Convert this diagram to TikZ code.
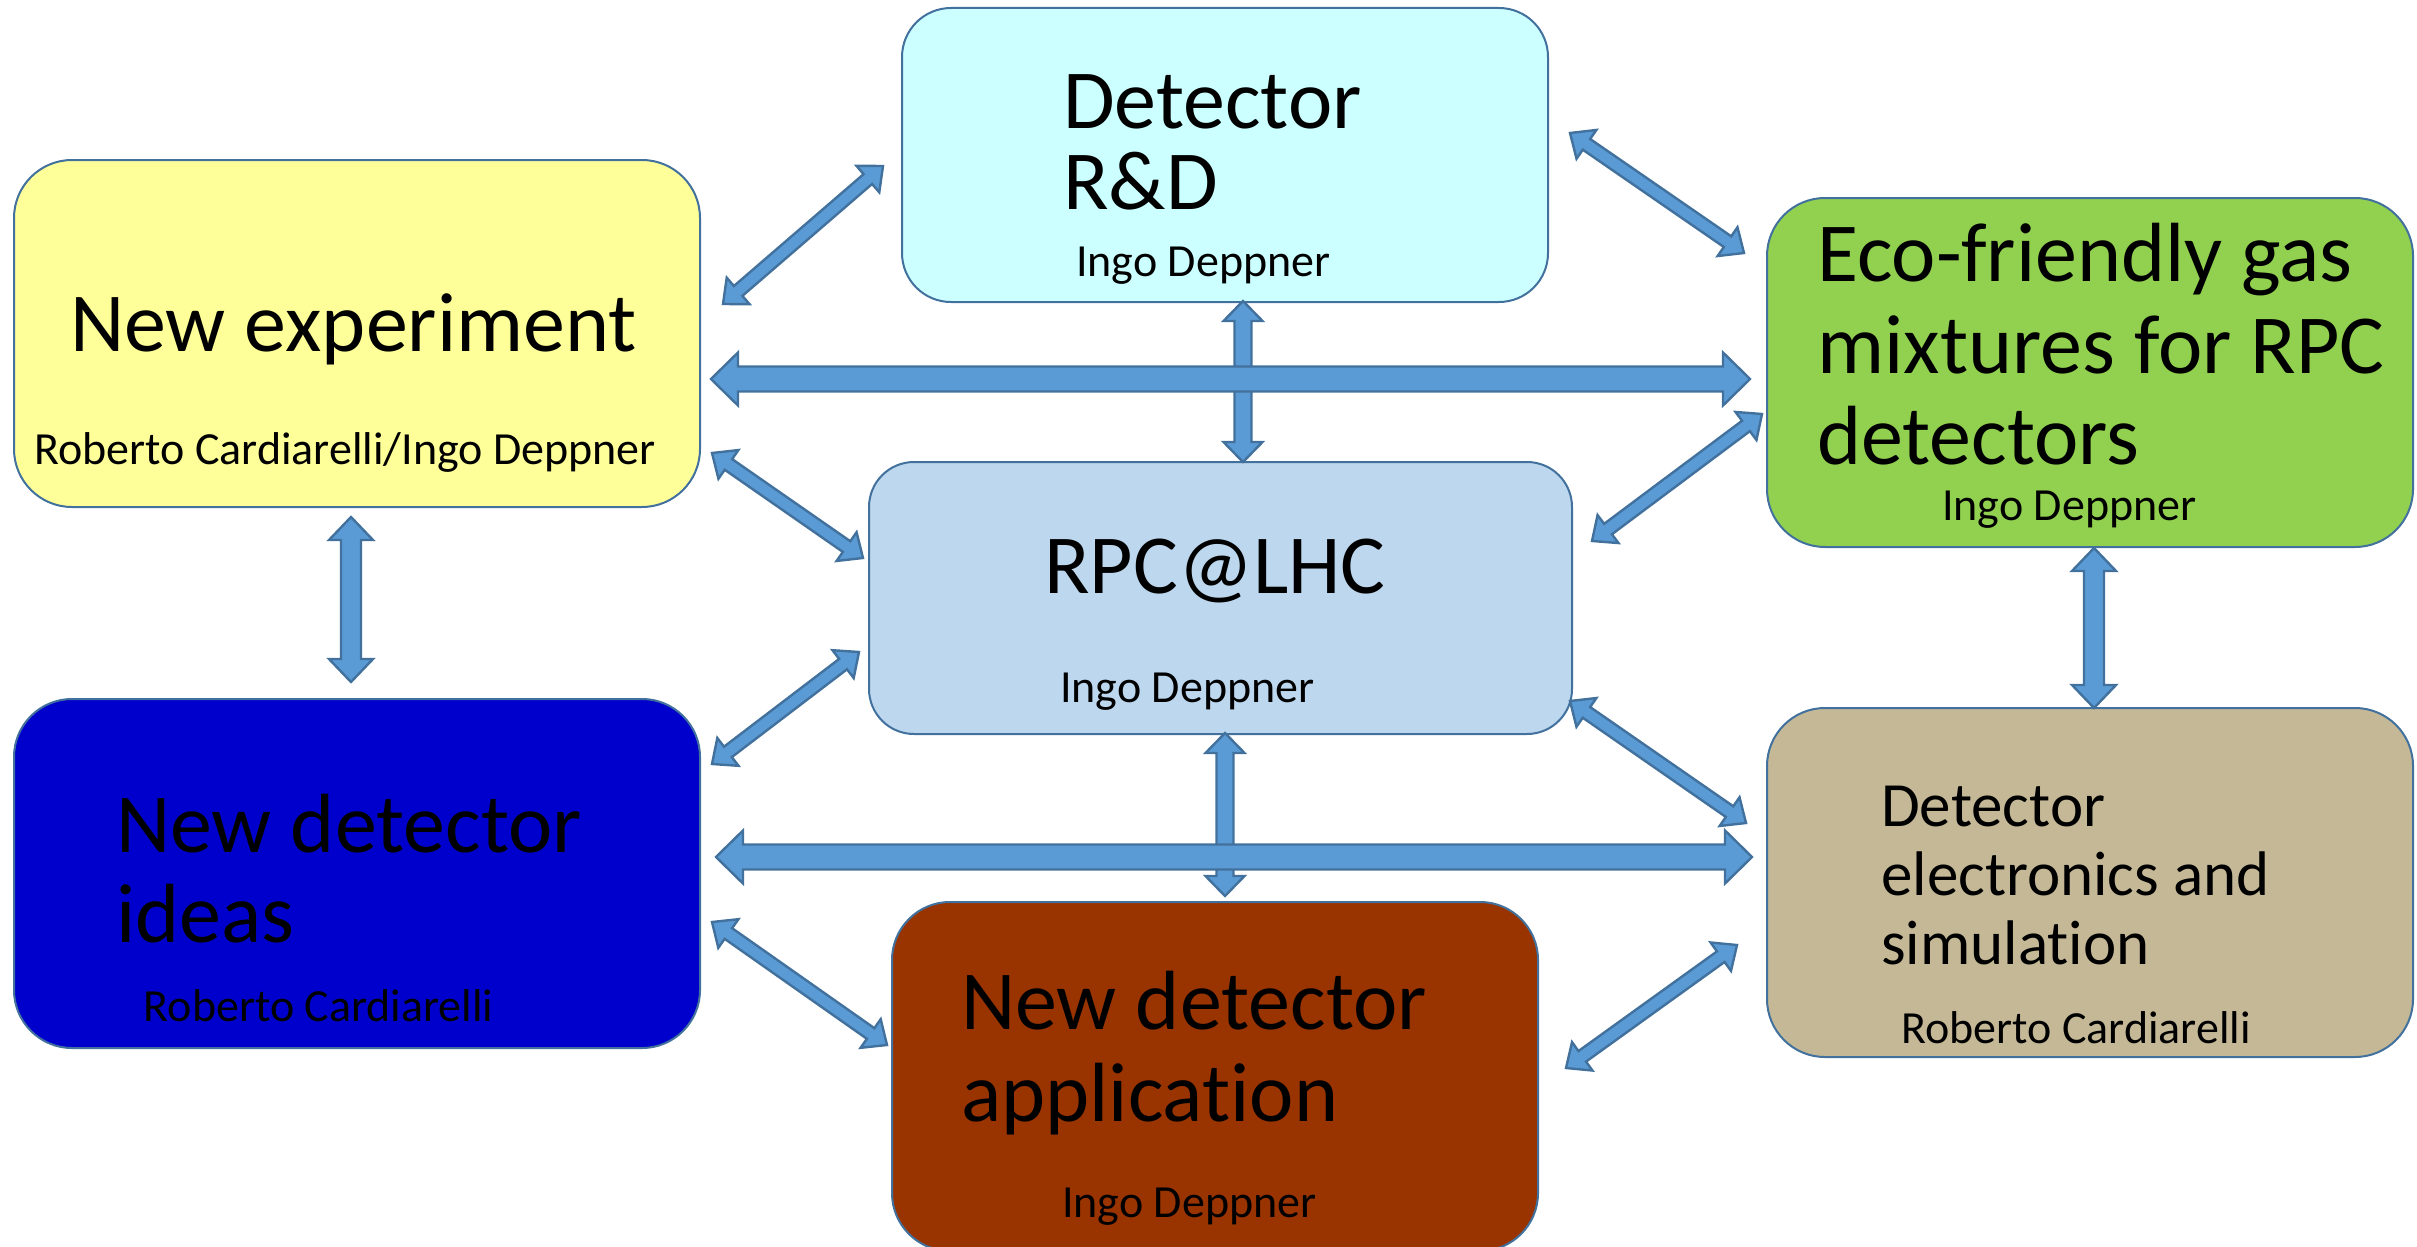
\documentclass[tikz,border=0pt]{standalone}
\usepackage{fontspec}
\setmainfont{Carlito}[Ligatures=NoCommon]
\usetikzlibrary{calc}

\definecolor{boxline}{HTML}{41719C}
\definecolor{arrowfill}{HTML}{5B9BD5}
\definecolor{arrowline}{HTML}{41719C}
\definecolor{cRD}{HTML}{CCFFFF}
\definecolor{cExp}{HTML}{FFFF99}
\definecolor{cEco}{HTML}{92D050}
\definecolor{cRPC}{HTML}{BDD7EE}
\definecolor{cIdeas}{HTML}{0000CC}
\definecolor{cApp}{HTML}{993300}
\definecolor{cElec}{HTML}{C4B896}

\tikzset{
  box/.style={draw=boxline, line width=2pt, inner sep=0pt, outer sep=0pt},
  bigbox/.style={box, minimum width=646pt, minimum height=349pt, rounded corners=58pt},
  title/.style={anchor=base west, inner sep=0pt, font=\fontsize{84}{92}\selectfont},
  midtitle/.style={anchor=base west, inner sep=0pt, font=\fontsize{63}{69}\selectfont},
  person/.style={anchor=base west, inner sep=0pt, font=\fontsize{46}{52}\selectfont},
  conn/.style={fill=arrowfill, draw=arrowline, line width=2.4pt, line join=miter},
}

% two-headed block arrow between tips #1 and #2
% #3 half shaft width, #4 half head width, #5 head length
\newcommand\biarrow[5]{%
  \filldraw[conn] (#1)
    -- ($(#1)!#5!(#2)!#4!90:(#2)$) -- ($(#1)!#5!(#2)!#3!90:(#2)$)
    -- ($(#2)!#5!(#1)!#3!-90:(#1)$) -- ($(#2)!#5!(#1)!#4!-90:(#1)$)
    -- (#2)
    -- ($(#2)!#5!(#1)!#4!90:(#1)$) -- ($(#2)!#5!(#1)!#3!90:(#1)$)
    -- ($(#1)!#5!(#2)!#3!-90:(#2)$) -- ($(#1)!#5!(#2)!#4!-90:(#2)$)
    -- cycle;}
\newcommand\diagarrow[2]{\biarrow{#1}{#2}{6.5pt}{17.5pt}{20pt}}
\newcommand\vertarrow[2]{\biarrow{#1}{#2}{8.5pt}{19.5pt}{20pt}}
\newcommand\tallarrow[2]{\biarrow{#1}{#2}{10pt}{22pt}{23pt}}
\newcommand\widearrow[2]{\biarrow{#1}{#2}{12.5pt}{26.5pt}{27pt}}

\begin{document}
\begin{tikzpicture}[x=1pt, y=-1pt]
\useasboundingbox (0,0) rectangle (2417,1247);

% boxes
\node[box, fill=cRD, minimum width=646pt, minimum height=294pt, rounded corners=49pt] (rd) at (1225,155) {};
\node[box, fill=cExp, minimum width=686pt, minimum height=347pt, rounded corners=58pt] (newexp) at (357,333.5) {};
\node[bigbox, fill=cEco] (eco) at (2090,372.5) {};
\node[box, fill=cRPC, minimum width=703pt, minimum height=272pt, rounded corners=45pt] (rpc) at (1220.5,598) {};
\node[box, fill=cIdeas, minimum width=686pt, minimum height=349pt, rounded corners=58pt] (ideas) at (357,873.5) {};
\node[bigbox, fill=cApp] (app) at (1215,1076.5) {};
\node[bigbox, fill=cElec] (elec) at (2090,882.5) {};

% texts
\node[title] (rdT1) at (1063,128.5) {Detector};
\node[title] (rdT2) at (1063,209) {R\&D};
\node[person] (rdP) at (1076,276) {Ingo Deppner};

\node[title] (expT) at (70,351.6) {New experiment};
\node[person] (expP) at (34,464) {Roberto Cardiarelli/Ingo Deppner};

\node[title] (ecoT1) at (1817,281) {Eco-friendly gas};
\node[title] (ecoT2) at (1817,373) {mixtures for RPC};
\node[title] (ecoT3) at (1817,464) {detectors};
\node[person] (ecoP) at (1942,520) {Ingo Deppner};

\node[title] (rpcT) at (1044,593) {RPC@LHC};
\node[person] (rpcP) at (1060,702) {Ingo Deppner};

\node[title] (ideasT1) at (116,852) {New detector};
\node[title] (ideasT2) at (116,942.5) {ideas};
\node[person] (ideasP) at (143.5,1021) {Roberto Cardiarelli};

\node[title] (appT1) at (961,1029) {New detector};
\node[title] (appT2) at (961,1121) {application};
\node[person] (appP) at (1062,1217) {Ingo Deppner};

\node[midtitle] (elecT1) at (1881,826) {Detector};
\node[midtitle] (elecT2) at (1881,895) {electronics and};
\node[midtitle] (elecT3) at (1881,964) {simulation};
\node[person] (elecP) at (1901,1043.6) {Roberto Cardiarelli};

% arrow tips
\coordinate (expRD1) at (723,304);   \coordinate (expRD2) at (883,166);
\coordinate (expEco1) at (711,379);  \coordinate (expEco2) at (1750,379);
\coordinate (rdRPC1) at (1243,301);  \coordinate (rdRPC2) at (1243,462);
\coordinate (rdEco1) at (1570,133);  \coordinate (rdEco2) at (1744,253);
\coordinate (expRPC1) at (712,453);  \coordinate (expRPC2) at (863,558);
\coordinate (ecoRPC1) at (1762,414); \coordinate (ecoRPC2) at (1592,541);
\coordinate (expId1) at (351,517);   \coordinate (expId2) at (351,682);
\coordinate (ecoEl1) at (2094,548);  \coordinate (ecoEl2) at (2094,708);
\coordinate (rpcId1) at (859,652);   \coordinate (rpcId2) at (712,764);
\coordinate (rpcApp1) at (1225,733); \coordinate (rpcApp2) at (1225,896);
\coordinate (idEl1) at (716,857);    \coordinate (idEl2) at (1752,857);
\coordinate (rpcEl1) at (1570,701);  \coordinate (rpcEl2) at (1746,823);
\coordinate (idApp1) at (712,922);   \coordinate (idApp2) at (887,1045);
\coordinate (appEl1) at (1566,1068); \coordinate (appEl2) at (1737,945);

% diagonal links
\diagarrow{expRD1}{expRD2}
\diagarrow{rdEco1}{rdEco2}
\diagarrow{expRPC1}{expRPC2}
\diagarrow{ecoRPC1}{ecoRPC2}
\diagarrow{rpcId1}{rpcId2}
\diagarrow{rpcEl1}{rpcEl2}
\diagarrow{idApp1}{idApp2}
\diagarrow{appEl1}{appEl2}

% vertical links
\vertarrow{rdRPC1}{rdRPC2}
\vertarrow{rpcApp1}{rpcApp2}
\tallarrow{expId1}{expId2}
\tallarrow{ecoEl1}{ecoEl2}

% long horizontal links
\widearrow{expEco1}{expEco2}
\widearrow{idEl1}{idEl2}
\end{tikzpicture}
\end{document}
